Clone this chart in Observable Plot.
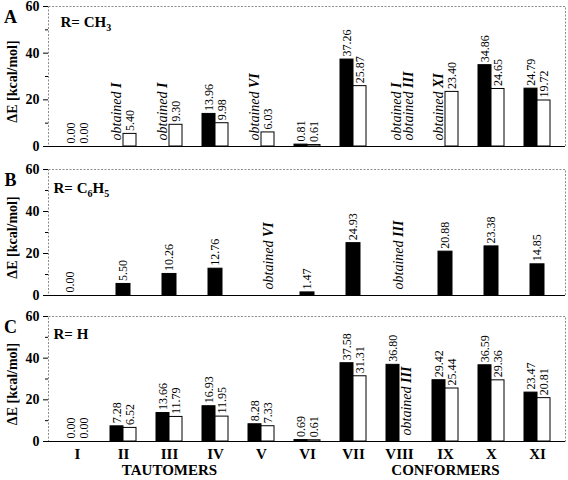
<!DOCTYPE html>
<html><head><meta charset="utf-8">
<script src="https://cdn.jsdelivr.net/npm/d3@7"></script>
<script src="https://cdn.jsdelivr.net/npm/@observablehq/plot@0.6"></script>
<style>
body{margin:0;background:#fff;}
#chart{width:568px;}
</style>
</head><body><div id="chart"></div>
<script>
// ---- data ----
const categories = ["I","II","III","IV","V","VI","VII","VIII","IX","X","XI"];
const yTicks = [0, 20, 40, 60];
const yMinorTicks = [10, 30, 50];
const yLabel = "ΔE [kcal/mol]";
const groupLabels = [{cat: "III", label: "TAUTOMERS"}, {cat: "IX", label: "CONFORMERS"}];

// Panel A: R = CH3
const aBlack = [0.00, null, null, 13.96, null, 0.81, 37.26, null, null, 34.86, 24.79];
const aWhite = [0.00, 5.40, 9.30, 9.98, 6.03, 0.61, 25.87, null, 23.40, 24.65, 19.72];
const aNotes = [
  {cat: "II", text: "obtained I", slot: "black"},
  {cat: "III", text: "obtained I", slot: "black"},
  {cat: "V", text: "obtained VI", slot: "black"},
  {cat: "VIII", text: "obtained I\nobtained III", slot: "center"},
  {cat: "IX", text: "obtained XI", slot: "black"}
];

// Panel B: R = C6H5
const bBlack = [0.00, 5.50, 10.26, 12.76, null, 1.47, 24.93, null, 20.88, 23.38, 14.85];
const bNotes = [
  {cat: "V", text: "obtained VI", slot: "white"},
  {cat: "VIII", text: "obtained III", slot: "single"}
];

// Panel C: R = H
const cBlack = [0.00, 7.28, 13.66, 16.93, 8.28, 0.69, 37.58, 36.80, 29.42, 36.59, 23.47];
const cWhite = [0.00, 6.52, 11.79, 11.95, 7.33, 0.61, 31.31, null, 25.44, 29.36, 20.81];
const cNotes = [
  {cat: "VIII", text: "obtained III", slot: "white"}
];

// ---- helpers ----
const rows = (values) => categories.map((cat, i) => ({cat, v: values[i]})).filter(d => d.v != null);
const fmt = d => d.v.toFixed(2);
const SLOT_DX = {black: -6.5, white: 8, center: 4, single: 0};

function decorate(svg) {
  // bold roman numerals inside the "obtained ..." notes
  svg.querySelectorAll("text, tspan").forEach(el => {
    if (el.children.length) return;
    const m = /^obtained (.+)$/.exec(el.textContent);
    if (!m) return;
    el.textContent = "obtained ";
    const t = document.createElementNS("http://www.w3.org/2000/svg", "tspan");
    t.setAttribute("font-weight", "bold");
    t.textContent = m[1];
    el.appendChild(t);
  });
  // subscripts in the substituent titles
  svg.querySelectorAll("text").forEach(el => {
    if (el.children.length || !/^R=/.test(el.textContent)) return;
    const parts = el.textContent.split(/(\d+)/).filter(s => s.length);
    el.textContent = "";
    let sub = false;
    parts.forEach(p => {
      const t = document.createElementNS("http://www.w3.org/2000/svg", "tspan");
      t.textContent = p;
      if (/^\d+$/.test(p)) {
        t.setAttribute("font-size", "10");
        t.setAttribute("dy", "4");
        sub = true;
      } else if (sub) {
        t.setAttribute("dy", "-4");
        sub = false;
      }
      el.appendChild(t);
    });
  });
  return svg;
}

function panel(o) {
  const marks = [
    Plot.frame({stroke: "#8c8c8c", strokeDasharray: "2,1.5"}),
    Plot.ruleY([0], {stroke: "black", strokeWidth: 1.2}),
    Plot.axisY({ticks: yTicks, tickSize: 5, tickPadding: 4, fontSize: 14, fontWeight: "bold", label: null, line: true}),
    Plot.axisY({ticks: yMinorTicks, tickSize: 3, tickFormat: () => "", label: null})
  ];
  const labelOpts = {x: "cat", y: "v", text: fmt, rotate: -90, textAnchor: "start", dy: -3, fontSize: 12};
  if (o.single) {
    const r = rows(o.black);
    marks.push(Plot.barY(r.filter(d => d.v > 0), {x: "cat", y: "v", fill: "black", stroke: "black", insetLeft: 16, insetRight: 16}));
    marks.push(Plot.text(r.filter(d => d.v > 0), {...labelOpts}));
    marks.push(Plot.text(r.filter(d => d.v === 0), {...labelOpts, dx: -7}));
  } else {
    const rb = rows(o.black), rw = rows(o.white);
    marks.push(Plot.barY(rb.filter(d => d.v > 0), {x: "cat", y: "v", fill: "black", stroke: "black", insetLeft: 10, insetRight: 23}));
    marks.push(Plot.barY(rw.filter(d => d.v > 0), {x: "cat", y: "v", fill: "white", stroke: "black", insetLeft: 23, insetRight: 10}));
    marks.push(Plot.text(rb, {...labelOpts, dx: -6.5}));
    marks.push(Plot.text(rw, {...labelOpts, dx: 6.5}));
  }
  for (const slot of Object.keys(SLOT_DX)) {
    const n = o.notes.filter(d => d.slot === slot);
    if (!n.length) continue;
    marks.push(Plot.text(n, {
      x: "cat", y: () => 0, text: "text", rotate: -90, textAnchor: "start",
      dx: SLOT_DX[slot], dy: -6, fontSize: 14, fontStyle: "italic", lineHeight: 0.8
    }));
  }
  marks.push(Plot.text([o.letter], {frameAnchor: "top-left", dx: -38, dy: 4, fontSize: 18, fontWeight: "bold", textAnchor: "middle"}));
  marks.push(Plot.text([o.title], {frameAnchor: "top-left", dx: o.titleDx, dy: o.titleDy, fontSize: 15, fontWeight: "bold", textAnchor: "start"}));
  marks.push(Plot.text([{v: 30}], {y: "v", text: () => yLabel, frameAnchor: "left", dx: -36, dy: 5, rotate: -90, textAnchor: "middle", fontSize: 14, fontWeight: "bold"}));
  if (o.showX) {
    marks.push(Plot.axisX({tickSize: 0, tickPadding: 7, fontSize: 15, fontWeight: "bold", label: null}));
    marks.push(Plot.text(groupLabels, {x: "cat", frameAnchor: "bottom", text: "label", dy: 33, fontSize: 15, fontWeight: "bold"}));
  }
  const svg = Plot.plot({
    width: 568,
    height: o.height,
    marginLeft: 48,
    marginRight: 3,
    marginTop: o.marginTop,
    marginBottom: o.marginBottom,
    x: {type: "band", domain: categories, padding: 0, insetLeft: 5, insetRight: 5, axis: o.showX ? undefined : null},
    y: {domain: [0, 60]},
    style: {fontFamily: "Liberation Serif", fontSize: "12px", color: "black", background: "white", overflow: "visible"},
    marks
  });
  return decorate(svg);
}

const chart = document.getElementById("chart");
chart.append(panel({letter: "A", title: "R= CH3", titleDx: 12, titleDy: 10, height: 158, marginTop: 6, marginBottom: 12,
  black: aBlack, white: aWhite, notes: aNotes}));
chart.append(panel({letter: "B", title: "R= C6H5", titleDx: 5, titleDy: 13, height: 152, marginTop: 11, marginBottom: 15,
  black: bBlack, single: true, notes: bNotes}));
chart.append(panel({letter: "C", title: "R= H", titleDx: 5, titleDy: 12, height: 170, marginTop: 6, marginBottom: 39,
  black: cBlack, white: cWhite, notes: cNotes, showX: true}));
</script>
</body></html>
